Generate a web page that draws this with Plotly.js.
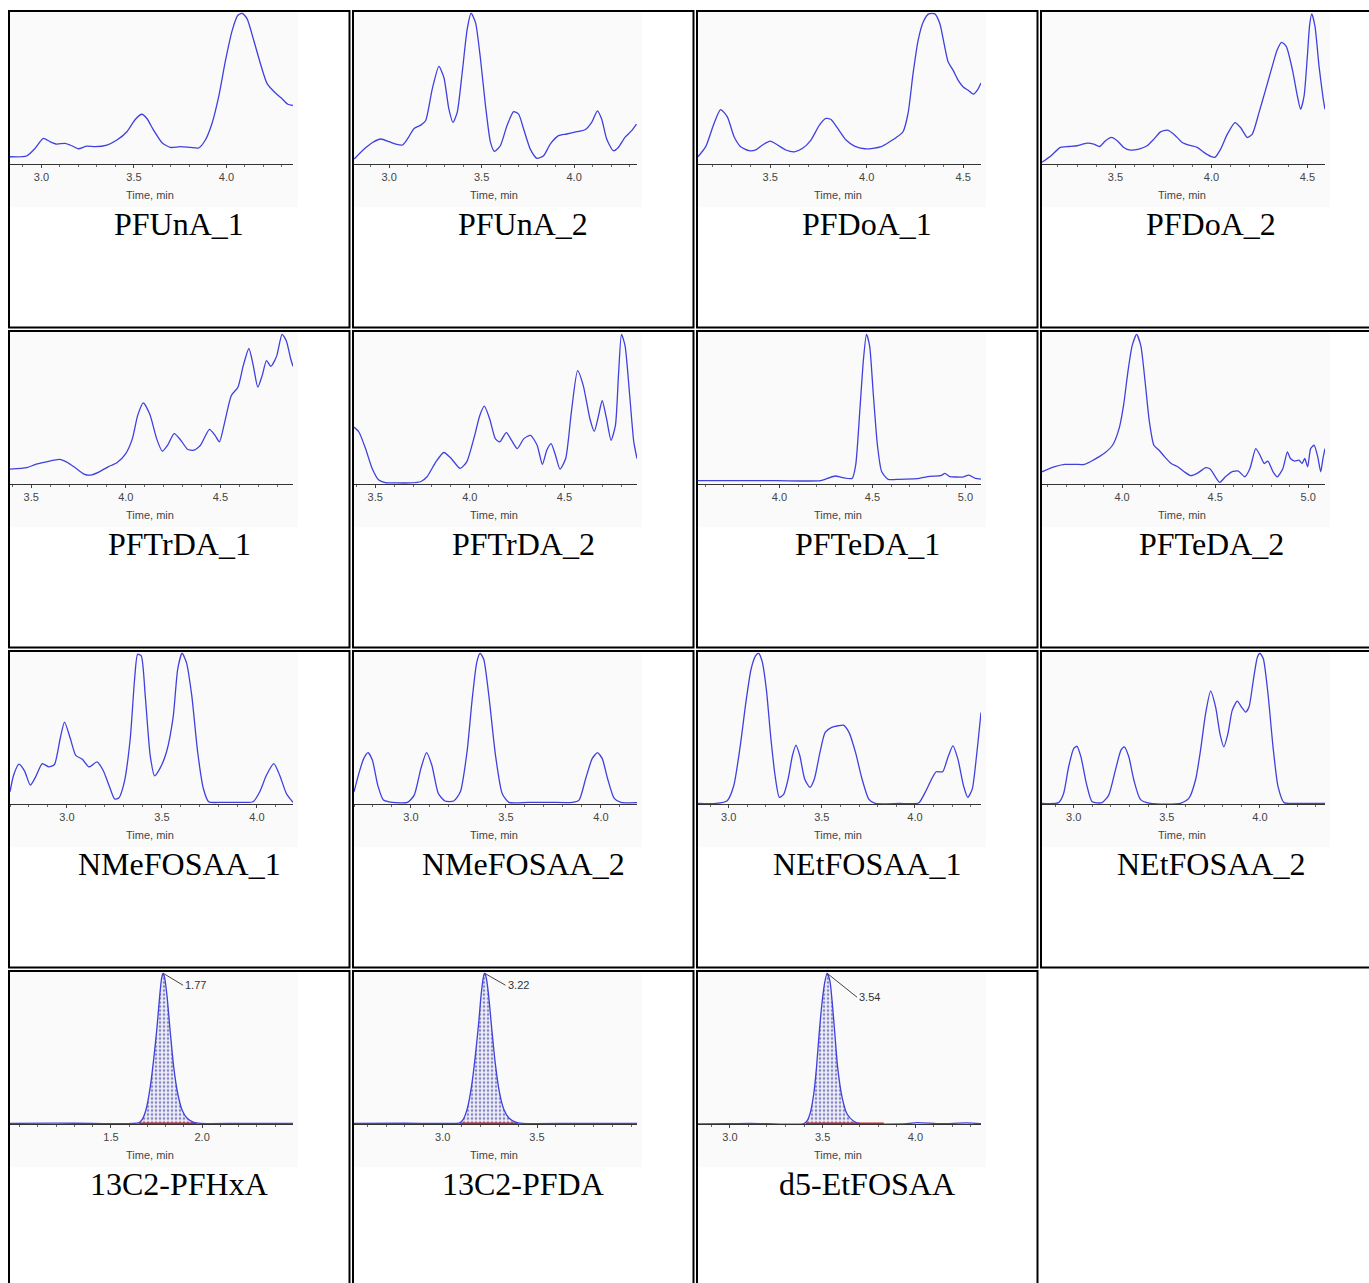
<!DOCTYPE html>
<html><head><meta charset="utf-8">
<script src="https://cdn.plot.ly/plotly-3.0.1.min.js"></script>
<style>html,body{margin:0;padding:0;background:#fff;}#chart{width:1369px;height:1283px;}</style>
</head><body><div id="chart"></div><script>
// ---- panel names (table order, 4 per row) ----
const panelNames = ["PFUnA_1","PFUnA_2","PFDoA_1","PFDoA_2",
  "PFTrDA_1","PFTrDA_2","PFTeDA_1","PFTeDA_2",
  "NMeFOSAA_1","NMeFOSAA_2","NEtFOSAA_1","NEtFOSAA_2",
  "13C2-PFHxA","13C2-PFDA","d5-EtFOSAA"];

// ---- retention time (min) and relative intensity (%) for each chromatogram ----
const time_PFUnA_1 = [2.83,2.92,2.966,3.01,3.047,3.083,3.128,3.164,3.2,3.245,3.29,3.354,3.408,3.462,3.507,3.543,3.57,3.606,3.652,3.697,3.751,3.805,3.85,3.886,3.922,3.958,3.995,4.031,4.061,4.085,4.112,4.148,4.184,4.22,4.265,4.30,4.332,4.359];
const int_PFUnA_1 = [4.8,5.3,10.4,17,14.8,13.2,13.7,12.1,10.1,11.9,11.5,12.6,15.9,21.4,29.5,33,30.2,22.5,14.1,11,11.5,11,10.6,15.9,26.9,44.5,68.7,88.5,98.5,100,96.3,81.9,66.5,53.3,47.1,43.4,39.6,38.8];

const time_PFUnA_2 = [2.811,2.865,2.91,2.955,3.0,3.036,3.072,3.099,3.135,3.171,3.197,3.233,3.269,3.296,3.323,3.345,3.368,3.395,3.422,3.443,3.467,3.494,3.521,3.548,3.569,3.601,3.637,3.673,3.70,3.727,3.763,3.799,3.835,3.871,3.916,3.96,4.014,4.059,4.095,4.126,4.149,4.176,4.212,4.239,4.275,4.311,4.337];
const int_PFUnA_2 = [3.3,9.9,14.3,16.6,14.8,13.2,12.6,16.6,23.6,25.8,28.7,49.7,64.7,57.4,36.4,27.6,34.2,60.7,89.4,100,93.8,69.5,38.6,14.3,8.4,12.1,25.4,34.7,33.1,23.2,9.9,3.8,5.5,13.2,18.8,19.9,21.4,22.7,27.6,35.3,29.8,16.6,8.8,11,17.7,22.1,26.5];

const time_PFDoA_1 = [3.126,3.166,3.209,3.243,3.278,3.313,3.347,3.391,3.425,3.46,3.5,3.538,3.581,3.625,3.668,3.711,3.755,3.789,3.815,3.85,3.893,3.937,3.989,4.032,4.075,4.119,4.153,4.188,4.214,4.24,4.266,4.292,4.321,4.353,4.379,4.401,4.422,4.448,4.474,4.5,4.526,4.552,4.575,4.592];
const int_PFDoA_1 = [4.8,11.5,26.9,36.1,31.3,18.1,11.5,8.8,9.3,12.6,15.2,12.6,9.3,8.1,10.4,15.9,25.8,30.2,29.5,23.6,15.9,11.9,10.1,10.4,11.5,14.8,17.6,21.4,33.5,59.9,81.9,94.1,99.6,99.6,93,79.7,67.6,62.1,55.5,51.1,48.9,46.3,49.3,53.7];

const time_PFDoA_2 = [3.117,3.161,3.213,3.257,3.30,3.352,3.387,3.417,3.448,3.479,3.509,3.543,3.578,3.622,3.665,3.70,3.735,3.77,3.804,3.848,3.883,3.926,3.961,3.996,4.018,4.048,4.083,4.123,4.152,4.187,4.213,4.248,4.283,4.317,4.343,4.366,4.39,4.422,4.448,4.465,4.483,4.50,4.512,4.523,4.54,4.561,4.583,4.592];
const int_PFDoA_2 = [1.1,5.1,11,11.6,12.1,13.8,13.2,11.6,15.4,17.6,15.4,11,9.2,9.9,12.1,16.5,21.3,22.4,19.8,14.3,12.5,11,7.7,5.1,4.4,9.9,19.8,27.5,24.2,17.6,19.8,34.1,49.5,64.8,75.8,80.7,78,62.6,45.1,36.3,45.1,71.4,92.3,99.6,91.2,64.8,42.9,36.3];

const time_PFTrDA_1 = [3.388,3.477,3.523,3.581,3.651,3.686,3.733,3.779,3.814,3.86,3.907,3.953,4.0,4.035,4.063,4.093,4.128,4.163,4.193,4.221,4.256,4.291,4.326,4.36,4.395,4.442,4.472,4.495,4.523,4.558,4.593,4.621,4.651,4.674,4.698,4.721,4.744,4.767,4.798,4.826,4.849,4.872,4.884];
const int_PFTrDA_1 = [9.9,10.8,13,14.7,16.3,14.7,10.8,6.6,5.9,8.1,11.4,14.1,20.2,30.1,45.5,53.8,45.9,30.1,21.8,25.7,33.4,29,23.1,22.4,25.7,36.3,32.3,27.9,41.1,58.7,64.2,78.5,89.9,78.5,64.2,71.9,81.8,78,85,99.3,94.9,82.9,78];

const time_PFTrDA_2 = [3.388,3.414,3.449,3.484,3.519,3.553,3.612,3.681,3.74,3.774,3.821,3.863,3.902,3.949,3.984,4.026,4.053,4.077,4.105,4.135,4.158,4.193,4.221,4.251,4.286,4.321,4.356,4.384,4.407,4.43,4.453,4.477,4.507,4.537,4.57,4.6,4.635,4.658,4.681,4.7,4.723,4.747,4.77,4.786,4.802,4.821,4.844,4.867,4.884];
const int_PFTrDA_2 = [37.8,34.5,23.5,10.3,2.6,0.9,0.7,0.7,1.5,4.8,14.7,20.9,16.9,10.3,14.7,32.3,45.5,51.6,43.3,30.1,27.9,34.1,29,23.5,30.1,32.3,25.7,13,22.4,26.8,19.1,9.9,16.9,47.7,75.2,65.3,43.3,34.9,45.5,55.4,43.3,29,38.9,71.9,99.3,91.6,60.9,27.9,16.9];

const time_PFTeDA_1 = [3.562,3.754,3.988,4.222,4.258,4.3,4.34,4.391,4.41,4.433,4.452,4.468,4.485,4.504,4.527,4.55,4.585,4.644,4.738,4.808,4.867,4.89,4.913,4.984,5.019,5.054,5.084];
const int_PFTeDA_1 = [2.2,2.2,2.2,2.2,3.7,5.3,4.2,3.7,12.5,49.9,82.9,99.3,91.6,60.9,25.7,8.1,3.1,3.1,3.5,5.1,5.5,7,5.1,4.6,5.9,3.7,3.3];

const time_PFTeDA_2 = [3.57,3.635,3.693,3.752,3.798,3.845,3.903,3.949,3.984,4.008,4.031,4.054,4.078,4.101,4.124,4.147,4.171,4.199,4.229,4.264,4.299,4.334,4.369,4.403,4.45,4.473,4.501,4.524,4.555,4.589,4.625,4.659,4.687,4.718,4.741,4.764,4.783,4.811,4.834,4.864,4.888,4.904,4.927,4.95,4.967,4.981,4.997,5.013,5.032,5.051,5.067,5.079,5.09];
const int_PFTeDA_2 = [8.1,11.4,13,13,13,15.8,20.2,25.7,36.7,52.1,74.1,91.6,99.3,91.6,67.5,41.1,25.7,22.4,18,13.6,11.4,8.1,5.5,7,10.8,9.9,4.8,1.1,4.8,8.1,8.6,4.8,10.3,23.5,19.1,13.6,15.2,8.1,4.8,10.3,21.3,16.9,15.2,15.8,13.6,16.9,11.4,23.5,25.7,18,8.1,16.9,23.5];

const time_NMeFOSAA_1 = [2.70,2.719,2.747,2.777,2.807,2.835,2.87,2.905,2.934,2.964,2.987,3.018,3.046,3.081,3.116,3.158,3.19,3.221,3.251,3.274,3.302,3.333,3.356,3.372,3.391,3.412,3.438,3.461,3.489,3.524,3.559,3.583,3.606,3.629,3.657,3.688,3.718,3.746,3.816,3.91,3.98,4.015,4.05,4.089,4.12,4.155,4.19];
const int_NMeFOSAA_1 = [8.1,19.1,26.4,21.8,12.5,18,26.8,24.6,26.2,43.3,54.3,43.3,32.3,29.7,24.6,27.9,22.4,12.5,3.3,4.2,14.7,43.3,82.9,99.3,98.2,71.9,32.3,18.7,23.5,34.5,57.6,89.5,100,93.8,71.9,34.5,10.3,1.5,1.1,1.1,1.5,8.1,19.1,26.8,19.1,7,1.1];

const time_NMeFOSAA_2 = [2.70,2.728,2.751,2.774,2.797,2.825,2.855,2.901,2.982,3.017,3.052,3.082,3.11,3.144,3.179,3.225,3.26,3.295,3.322,3.346,3.364,3.383,3.41,3.445,3.48,3.515,3.619,3.734,3.85,3.885,3.92,3.954,3.982,4.007,4.035,4.07,4.105,4.19];
const int_NMeFOSAA_2 = [8.1,21.3,30.1,34.1,29,12.5,2.6,1.1,1.1,5.9,23.5,34.1,25.7,7,2,2,8.1,34.5,69.2,93.8,100,96,71.9,32.3,7,1.1,1.1,1.1,1.1,2.6,16.9,30.1,34.1,30.1,16.9,3.7,1.1,0.9];

const time_NEtFOSAA_1 = [2.835,2.933,2.992,3.027,3.062,3.092,3.12,3.144,3.16,3.179,3.202,3.225,3.249,3.272,3.296,3.319,3.342,3.361,3.382,3.408,3.436,3.46,3.49,3.518,3.553,3.588,3.616,3.646,3.681,3.716,3.752,3.787,3.915,4.02,4.055,4.09,4.114,4.149,4.177,4.204,4.231,4.261,4.284,4.308,4.331,4.355];
const int_NEtFOSAA_1 = [0.4,0.4,2.2,12.1,38.6,67.3,89.4,98.2,100,94.9,76.2,45.3,18.8,4.4,6.6,16.6,32,39.1,32,16.6,11,16.6,34.2,47.5,50.8,51.9,52.3,47.5,34.2,16.6,3.3,0.4,0.4,0.7,7.7,16.6,21.4,21.4,30.9,38.6,29.8,12.1,4.4,9.9,32,60.7];

const time_NEtFOSAA_2 = [2.83,2.919,2.946,2.973,3.0,3.018,3.039,3.068,3.099,3.152,3.188,3.224,3.254,3.272,3.296,3.323,3.358,3.412,3.573,3.618,3.654,3.681,3.708,3.735,3.762,3.785,3.806,3.828,3.851,3.878,3.901,3.923,3.941,3.964,3.986,4.0,4.018,4.043,4.07,4.097,4.129,4.201,4.349];
const int_NEtFOSAA_2 = [0.4,0.9,7,24.7,36.8,38.3,31.3,13.7,1.5,0.9,5.9,22.5,35.7,37.9,31.3,15.9,3.1,0.4,0.4,3.7,15.9,35.7,59.9,74.9,64.3,46.7,37.9,46.7,62.1,68.3,64.3,61,64.3,81.9,97.4,100,96.3,73.1,37.9,11.5,0.9,0.4,0.4];

const time_13C2_PFHxA = [0.947,1.2,1.4,1.652,1.67,1.692,1.716,1.734,1.753,1.767,1.778,1.786,1.795,1.808,1.826,1.844,1.866,1.89,1.918,1.954,1.991,2.2,2.498];
const int_13C2_PFHxA = [0.4,0.6,0.4,0.7,2.7,9.3,24.8,42.5,64.6,84.5,96.7,100,96.7,84.5,60.2,38.1,20.4,9.3,3.8,1.1,0.4,0.4,0.4];

const time_13C2_PFDA = [2.53,2.8,3.0,3.091,3.109,3.131,3.154,3.172,3.19,3.204,3.215,3.222,3.231,3.243,3.261,3.279,3.301,3.324,3.351,3.387,3.423,3.7,4.03];
const int_13C2_PFDA = [0.4,0.5,0.4,0.8,3.0,10.5,26,44,66,86,97,100,97,86,62,40,21,9.8,4,1.2,0.4,0.4,0.4];

const time_d5_EtFOSAA = [2.828,3.0,3.111,3.2,3.399,3.417,3.434,3.452,3.467,3.481,3.496,3.51,3.524,3.539,3.551,3.566,3.581,3.605,3.632,3.668,3.704,3.955,4.009,4.135,4.278,4.354];
const int_d5_EtFOSAA = [0,0.2,0.4,0.2,0.2,2.2,7.7,19.9,37.6,59.7,79.6,92.9,100,95.1,81.9,59.7,37.6,17.7,6.6,1.8,0.2,0.2,0.9,0.2,0.7,0.2];

// ---- x-axis (time) range shown in each panel ----
const timeRanges = [[2.83,4.36],[2.81,4.34],[3.126,4.592],[3.117,4.592],
  [3.388,4.884],[3.388,4.884],[3.562,5.084],[3.57,5.09],
  [2.70,4.19],[2.70,4.19],[2.835,4.355],[2.83,4.349],
  [0.947,2.498],[2.53,4.03],[2.828,4.354]];

// ---- labelled time ticks in each panel ----
const tickLabels = [["3.0","3.5","4.0"],["3.0","3.5","4.0"],["3.5","4.0","4.5"],["3.5","4.0","4.5"],
  ["3.5","4.0","4.5"],["3.5","4.0","4.5"],["4.0","4.5","5.0"],["4.0","4.5","5.0"],
  ["3.0","3.5","4.0"],["3.0","3.5","4.0"],["3.0","3.5","4.0"],["3.0","3.5","4.0"],
  ["1.5","2.0"],["3.0","3.5"],["3.0","3.5","4.0"]];

// ---- integrated internal-standard peaks (panels 13-15) ----
const peakApexTimes = [1.786,3.222,3.524];
const peakApexLabels = ["1.77","3.22","3.54"];
const peakFillWindows = [[1.652,1.991],[3.091,3.423],[3.399,3.704]];
const peakBaselineStart = [1.652,3.09,3.41];
const peakBaselineEnd = [1.97,3.40,3.83];

const series = [
  [time_PFUnA_1,int_PFUnA_1],[time_PFUnA_2,int_PFUnA_2],[time_PFDoA_1,int_PFDoA_1],[time_PFDoA_2,int_PFDoA_2],
  [time_PFTrDA_1,int_PFTrDA_1],[time_PFTrDA_2,int_PFTrDA_2],[time_PFTeDA_1,int_PFTeDA_1],[time_PFTeDA_2,int_PFTeDA_2],
  [time_NMeFOSAA_1,int_NMeFOSAA_1],[time_NMeFOSAA_2,int_NMeFOSAA_2],[time_NEtFOSAA_1,int_NEtFOSAA_1],[time_NEtFOSAA_2,int_NEtFOSAA_2],
  [time_13C2_PFHxA,int_13C2_PFHxA],[time_13C2_PFDA,int_13C2_PFDA],[time_d5_EtFOSAA,int_d5_EtFOSAA]];

// ---- layout constants (pixels) ----
const W = 1369, H = 1283;
const COLW = 344, ROWH = 320;
const px = v => v / W;
const py = v => 1 - v / H;
const labelOffsets = [[20,12],[21,12],[30,24]];
const lineColor = 'rgb(64,64,222)';

const data = [], shapes = [], annotations = [];
const layout = {
  width: W, height: H, margin: {l:0, r:0, t:0, b:0},
  paper_bgcolor: '#ffffff', plot_bgcolor: 'rgba(0,0,0,0)',
  showlegend: false, hovermode: false
};

// cell borders (table look); fourth cell of row 4 is empty
for (let r = 0; r < 4; r++) {
  for (let c = 0; c < 4; c++) {
    if (r === 3 && c === 3) continue;
    shapes.push({type:'rect', xref:'paper', yref:'paper', layer:'above',
      x0: px(9 + COLW*c), x1: px(349.5 + COLW*c),
      y0: py(327.5 + ROWH*r), y1: py(11 + ROWH*r),
      line:{color:'#000', width:2}, fillcolor:'rgba(0,0,0,0)'});
  }
}

panelNames.forEach((name, i) => {
  const r = Math.floor(i/4), c = i % 4, n = i + 1;
  const xa = n === 1 ? 'x' : 'x' + n, ya = n === 1 ? 'y' : 'y' + n;
  const xk = n === 1 ? 'xaxis' : 'xaxis' + n, yk = n === 1 ? 'yaxis' : 'yaxis' + n;
  const imgL = 10 + COLW*c;
  const base = 164 + ROWH*r, top = 12.5 + ROWH*r;

  // chromatogram image background
  shapes.push({type:'rect', xref:'paper', yref:'paper', layer:'below',
    x0: px(imgL), x1: px(imgL + 288), y0: py(ROWH*r + 207), y1: py(ROWH*r + 12),
    line:{width:0}, fillcolor:'#fafafa'});

  layout[xk] = {
    domain:[px(imgL), px(imgL + 283)], range: timeRanges[i], anchor: ya,
    showline:true, linecolor:'#333', linewidth:1, mirror:false,
    ticks:'outside', ticklen:3, tickwidth:1, tickcolor:'#444',
    tickmode:'array', tickvals: tickLabels[i].map(Number), ticktext: tickLabels[i],
    tickfont:{family:'Liberation Sans, Arial, sans-serif', size:11, color:'#444'},
    minor:{tickmode:'linear', dtick:0.1, tick0:0, ticks:'outside', ticklen:2, tickcolor:'#666', showgrid:false},
    showgrid:false, zeroline:false, fixedrange:true
  };
  layout[yk] = {domain:[py(base), py(top)], range:[0,100.5], anchor: xa,
    visible:false, fixedrange:true};

  const [tx, ty] = series[i];
  if (i >= 12) {
    const k = i - 12;
    const fx = [], fy = [];
    tx.forEach((t, j) => { if (t >= peakFillWindows[k][0] && t <= peakFillWindows[k][1]) { fx.push(t); fy.push(ty[j]); } });
    data.push({type:'scatter', mode:'lines', x: fx, y: fy, xaxis: xa, yaxis: ya,
      line:{width:0, shape:'spline', smoothing:0.6}, fill:'tozeroy',
      fillcolor:'rgba(228,228,246,1)',
      fillpattern:{shape:'.', fgcolor:'#8484bc', bgcolor:'#eeeefa', size:4, solidity:0.35}});
    data.push({type:'scatter', mode:'lines', x:[peakBaselineStart[k], peakBaselineEnd[k]], y:[0.4,0.4],
      xaxis: xa, yaxis: ya, line:{color:'#cc2020', width:1.6}});
    annotations.push({xref: xa, yref: ya, x: peakApexTimes[k], y: 100, text: peakApexLabels[k],
      showarrow:true, arrowhead:0, arrowwidth:1, arrowcolor:'#444',
      ax: labelOffsets[k][0], ay: labelOffsets[k][1], xanchor:'left', yanchor:'middle',
      font:{family:'Liberation Sans, Arial, sans-serif', size:11, color:'#333'}});
  }
  data.push({type:'scatter', mode:'lines', x: tx, y: ty, xaxis: xa, yaxis: ya,
    line:{color: lineColor, width:1.3, shape:'spline', smoothing:0.6}});

  annotations.push({xref:'paper', yref:'paper', x: px(imgL + 140), y: py(195 + ROWH*r),
    text:'Time, min', showarrow:false, xanchor:'center', yanchor:'middle',
    font:{family:'Liberation Sans, Arial, sans-serif', size:11, color:'#444'}});
  annotations.push({xref:'paper', yref:'paper', x: px(179 + COLW*c), y: py(224 + ROWH*r),
    text: name, showarrow:false, xanchor:'center', yanchor:'middle',
    font:{family:'Liberation Serif, Times New Roman, serif', size:32, color:'#000'}});
});

layout.shapes = shapes;
layout.annotations = annotations;
Plotly.newPlot('chart', data, layout, {staticPlot:true, displayModeBar:false});
</script></body></html>
